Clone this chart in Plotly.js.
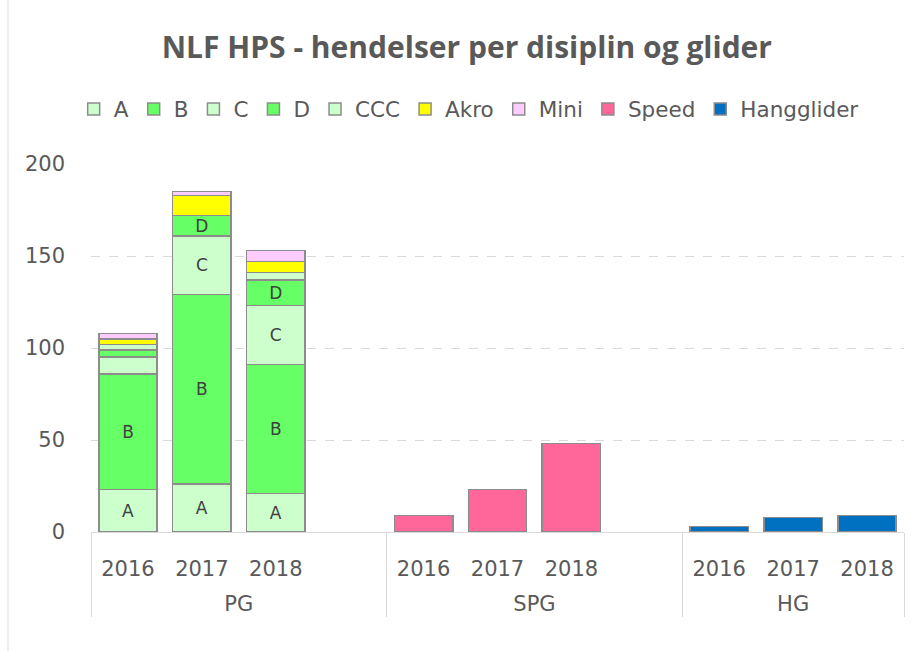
<!DOCTYPE html>
<html>
<head>
<meta charset="utf-8">
<script src="https://cdn.plot.ly/plotly-3.0.1.min.js"></script>
<style>
  html, body { margin: 0; padding: 0; background: #ffffff; }
  #chart { width: 919px; height: 651px; }
</style>
</head>
<body>
<div id="chart"></div>
<script>
// ---- data ----
const groupNames = ["PG", "SPG", "HG"];
const yearLabels = ["2016", "2017", "2018"];
const seriesNames = ["A", "B", "C", "D", "CCC", "Akro", "Mini", "Speed", "Hangglider"];

// PG (paraglider) per discipline, years 2016-2018
const pgA    = [23, 26, 21];
const pgB    = [63, 103, 70];
const pgC    = [9, 32, 32];
const pgD    = [4, 11, 14];
const pgCCC  = [3, 0, 4];
const pgAkro = [3, 11, 6];
const pgMini = [3, 2, 6];
// SPG (speed) and HG (hangglider)
const spgSpeed = [9, 23, 48];
const hgHang   = [3, 8, 9];

// labels printed inside the PG bar segments
const lblA = ["A", "A", "A"];
const lblB = ["B", "B", "B"];
const lblC = ["", "C", "C"];
const lblD = ["", "D", "D"];

const colors = {
  A: "#CCFFCC", B: "#66FF66", C: "#CCFFCC", D: "#66FF66", CCC: "#CCFFCC",
  Akro: "#FFFF00", Mini: "#FFCCFF", Speed: "#FF6699", Hangglider: "#0070C0"
};

// ---- categories (one empty slot after PG and SPG, as in the source) ----
const groupIdx = [];
const outer = [];
const inner = [];
groupNames.forEach((g, gi) => {
  yearLabels.forEach(y => { groupIdx.push(gi); outer.push(g); inner.push(y + "<br>&nbsp;"); });
  if (gi < groupNames.length - 1) { groupIdx.push(-1); outer.push(g); inner.push(" "); }
});

function place(groupIndex, vals) {
  const out = new Array(outer.length).fill(null);
  let k = 0;
  for (let i = 0; i < outer.length; i++) {
    if (groupIdx[i] === groupIndex) out[i] = vals[k++];
  }
  return out;
}

const FONT = "'DejaVu Sans', 'Open Sans', sans-serif";
const TFONT = "'Open Sans', 'Noto Sans', sans-serif";
const GRAY = "#595959";

function makeTrace(name, groupIndex, vals, labels) {
  const t = {
    type: "bar",
    name: name,
    x: [outer, inner],
    y: place(groupIndex, vals),
    marker: { color: colors[name], line: { color: "#8c8c8c", width: 1.5 } },
    hoverinfo: "skip"
  };
  if (labels) {
    t.text = place(groupIndex, labels);
    t.textposition = "inside";
    t.insidetextanchor = "middle";
    t.textangle = 0;
    t.insidetextfont = { family: FONT, size: 17, color: "#404040" };
  } else {
    t.textposition = "none";
  }
  return t;
}

const data = [
  makeTrace("A", 0, pgA, lblA),
  makeTrace("B", 0, pgB, lblB),
  makeTrace("C", 0, pgC, lblC),
  makeTrace("D", 0, pgD, lblD),
  makeTrace("CCC", 0, pgCCC),
  makeTrace("Akro", 0, pgAkro),
  makeTrace("Mini", 0, pgMini),
  makeTrace("Speed", 1, spgSpeed),
  makeTrace("Hangglider", 2, hgHang)
];

const layout = {
  width: 919,
  height: 651,
  paper_bgcolor: "#ffffff",
  plot_bgcolor: "#ffffff",
  margin: { l: 91, r: 15, t: 164, b: 119 },
  barmode: "stack",
  bargap: 0.21,
  font: { family: FONT, color: GRAY },
  uniformtext: { mode: "show", minsize: 17 },
  title: {
    text: "<b>NLF HPS - hendelser per disiplin og glider</b>",
    font: { family: TFONT, size: 30, color: GRAY },
    xref: "container", x: 0.508, xanchor: "center",
    yref: "container", y: 1 - 47 / 651, yanchor: "middle"
  },
  legend: {
    orientation: "h",
    traceorder: "normal",
    xref: "container", x: 0.51, xanchor: "center",
    yref: "container", y: 1 - 109 / 651, yanchor: "middle",
    font: { family: FONT, size: 21.5, color: GRAY },
    itemwidth: 30,
    bgcolor: "rgba(0,0,0,0)"
  },
  xaxis: {
    type: "multicategory",
    showline: true,
    linecolor: "#d9d9d9",
    linewidth: 1,
    showdividers: true,
    dividercolor: "#d9d9d9",
    dividerwidth: 1,
    showgrid: false,
    zeroline: false,
    ticklabelstandoff: 18,
    tickfont: { family: FONT, size: 21, color: GRAY },
    fixedrange: true
  },
  yaxis: {
    range: [0, 200],
    dtick: 50,
    tick0: 0,
    showgrid: true,
    gridcolor: "#d9d9d9",
    griddash: "dash",
    gridwidth: 1,
    zeroline: false,
    showline: false,
    ticks: "",
    ticklabelstandoff: 25,
    tickfont: { family: FONT, size: 21, color: GRAY },
    fixedrange: true
  },
  shapes: [
    {
      type: "line", xref: "paper", yref: "paper",
      xsizemode: "pixel", xanchor: 0, x0: -83, x1: -83,
      y0: -1, y1: 2,
      line: { color: "#d9d9d9", width: 1 }
    }
  ]
};

Plotly.newPlot("chart", data, layout, { staticPlot: true, displayModeBar: false });
</script>
</body>
</html>
